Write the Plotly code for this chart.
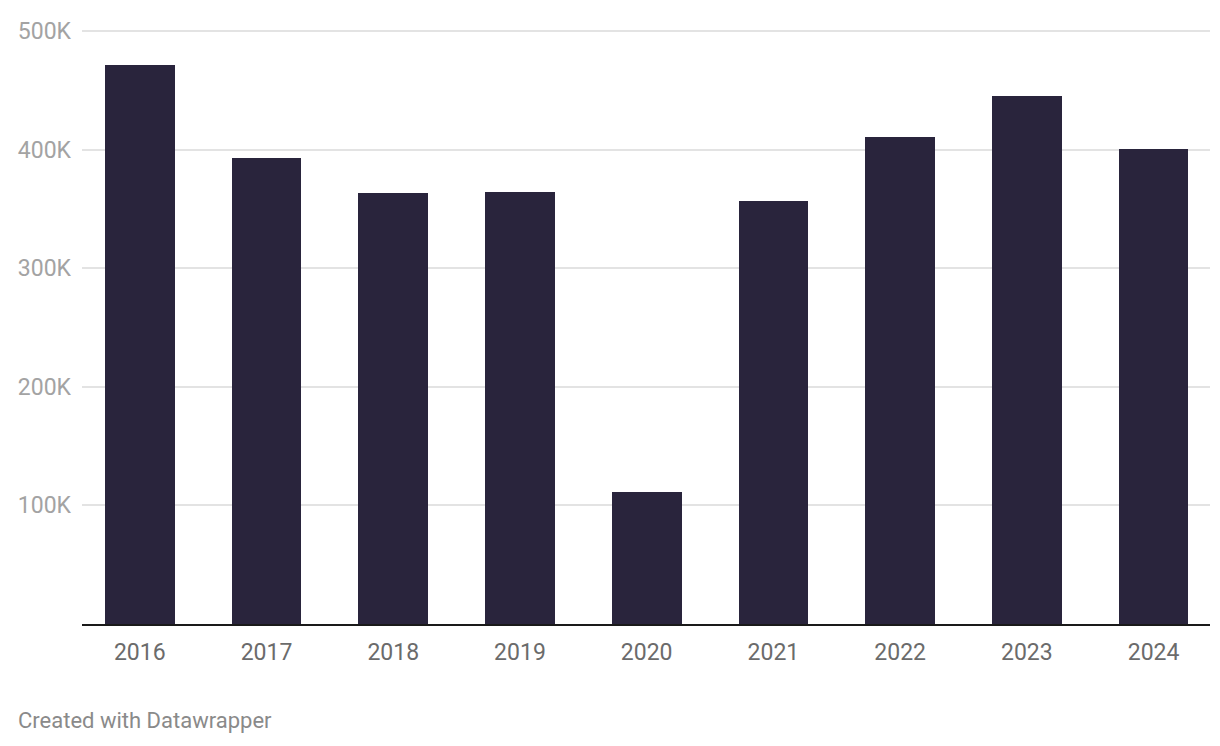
import plotly.graph_objects as go

years = ["2016", "2017", "2018", "2019", "2020", "2021", "2022", "2023", "2024"]
values = [471000, 393000, 363000, 364000, 111500, 357000, 410500, 445500, 400500]
y_tickvals = [100000, 200000, 300000, 400000, 500000]
y_ticktext = ["100K", "200K", "300K", "400K", "500K"]

# the page has an 8px body margin, so the figure is drawn 8px smaller
W, H = 1212, 738
ML, MR, MT, MB = 69, 10, 10, 122

fig = go.Figure(
    go.Bar(
        x=list(range(len(years))),
        y=values,
        width=0.55,
        marker=dict(color="#29243c", line=dict(width=0)),
        hoverinfo="skip",
    )
)

plot_w = W - ML - MR
plot_h = H - MT - MB

fig.update_layout(
    width=W,
    height=H,
    margin=dict(l=ML, r=MR, t=MT, b=MB),
    paper_bgcolor="white",
    plot_bgcolor="white",
    font=dict(family="Roboto", size=23),
    showlegend=False,
    bargap=0,
    annotations=[
        dict(
            text="Created with Datawrapper",
            x=(3 - ML) / plot_w, y=(H - MB - 714) / plot_h,
            xref="paper", yref="paper",
            xanchor="left", yanchor="middle",
            showarrow=False,
            font=dict(family="Roboto", size=22, color="#8a8a8a"),
        )
    ],
)

fig.update_xaxes(
    range=[-0.456, 8.445],
    tickvals=list(range(len(years))),
    ticktext=years,
    showgrid=False,
    showline=True,
    linecolor="#1a1a1a",
    linewidth=2,
    ticks="",
    ticklabelstandoff=6,
    tickfont=dict(family="Roboto", size=23, color="#6b6b6b"),
    zeroline=False,
)
fig.update_yaxes(
    range=[0, 505000],
    tickvals=y_tickvals,
    ticktext=y_ticktext,
    showgrid=True,
    gridcolor="#e3e3e3",
    gridwidth=2,
    zeroline=False,
    showline=False,
    ticks="",
    ticklabelstandoff=10,
    tickfont=dict(family="Roboto", size=23, color="#a3a3a3"),
)

fig.write_html("out.html")
